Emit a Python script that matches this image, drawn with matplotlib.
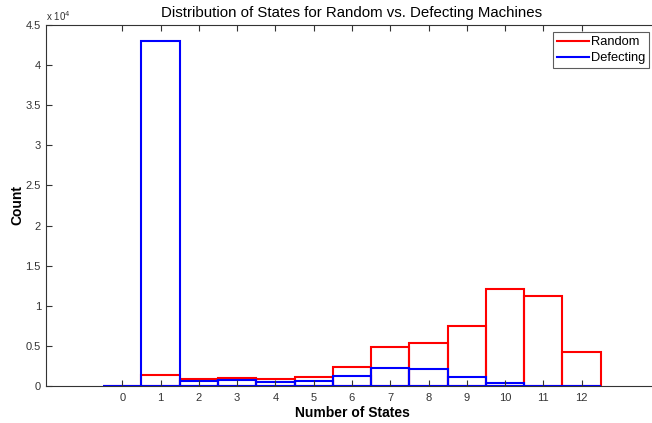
import numpy as np
import matplotlib
matplotlib.use('Agg')
import matplotlib.pyplot as plt
from matplotlib.ticker import FuncFormatter
from matplotlib.lines import Line2D

# Bin centres (number of states) and counts per machine type
states = [0, 1, 2, 3, 4, 5, 6, 7, 8, 9, 10, 11, 12]
random_counts = [0, 1370, 880, 960, 840, 1120, 2420, 4920, 5420, 7500, 12120, 11250, 4250]
defecting_counts = [0, 43000, 560, 800, 540, 620, 1250, 2250, 2130, 1130, 330, 20, 0]

plt.rcParams['font.family'] = ['Liberation Sans', 'DejaVu Sans']

fig = plt.figure(figsize=(6.52, 4.23), dpi=100)
# axes run slightly past the right edge of the figure (as in the original export)
ax = fig.add_axes([0.0701, 0.0875, 0.9394, 0.8535])

ax.bar(states, random_counts, width=1.0, fill=False, edgecolor='#ff0000', linewidth=1.5)
ax.bar(states, defecting_counts, width=1.0, fill=False, edgecolor='#0000ff', linewidth=1.5)

ax.set_xlim(-2, 14)
ax.set_ylim(0, 45000)
ax.set_xticks(states)
ax.set_yticks(np.arange(0, 45001, 5000))
ax.yaxis.set_major_formatter(FuncFormatter(lambda v, p: '%g' % (v / 1e4)))

ax.tick_params(direction='in', top=True, right=True, labelsize=8, colors='#333333', length=4)
ax.tick_params(axis='x', pad=5)
for s in ax.spines.values():
    s.set_color('#333333')
    s.set_linewidth(0.8)

ax.text(0.0, 1.005, 'x 10$^4$', transform=ax.transAxes, fontsize=7, color='#333333',
        ha='left', va='bottom')

ax.set_title('Distribution of States for Random vs. Defecting Machines', fontsize=10.8, pad=6)
ax.set_xlabel('Number of States', fontsize=10, fontweight='bold', labelpad=2)
ax.set_ylabel('Count', fontsize=10, fontweight='bold', labelpad=1)

handles = [Line2D([], [], color='#ff0000', lw=1.5), Line2D([], [], color='#0000ff', lw=1.5)]
leg = ax.legend(handles, ['Random', 'Defecting'], loc='upper left',
                bbox_to_anchor=(552.7 / 652, 1 - 32.3 / 423), bbox_transform=fig.transFigure,
                fontsize=9.3, fancybox=False, edgecolor='#333333', handlelength=2.5,
                borderpad=0.3, labelspacing=0.3, handletextpad=0.15, borderaxespad=0)
leg.get_frame().set_linewidth(0.8)

fig.savefig('out.png', dpi=100)
